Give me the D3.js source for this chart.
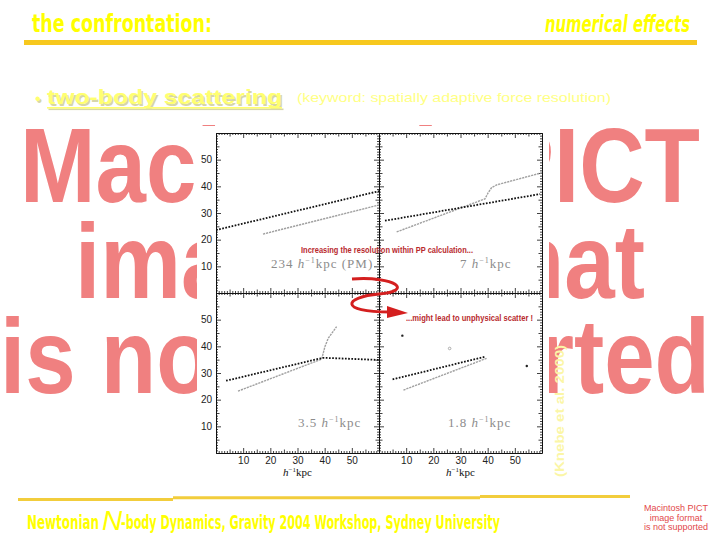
<!DOCTYPE html>
<html>
<head>
<meta charset="utf-8">
<script src="https://cdn.jsdelivr.net/npm/d3@7"></script>
<style>
  body { margin: 0; background: #fff; }
  svg { display: block; }
</style>
</head>
<body>
<svg width="720" height="540"></svg>
<script>
var width = 720, height = 540;

// texts
var placeholder_lines = ["Macintosh PICT", "image format", "is not supported"];
var axis_labels = [10, 20, 30, 40, 50];
var panel_res = ["234", "7", "3.5", "1.8"];
var panel_suffix = [" (PM)", "", "", ""];

// curves per panel, [x, y] in h^-1 kpc
var tl_black = [[0, 23.6], [60, 38.2]];
var tl_gray  = [[17.3, 22.1], [60, 33.0]];
var tr_black = [[2.2, 27.1], [59.3, 37.1]];
var tr_gray  = [[6.5, 22.9], [39.0, 35.3], [40.2, 37.6], [41.5, 39.6], [43.5, 40.6], [60, 45.1]];
var bl_black = [[3.7, 27.1], [39.4, 35.7], [60, 34.9]];
var bl_gray  = [[8.1, 23.2], [38.9, 35.2], [40.1, 39.9], [41.3, 43.0], [44.4, 47.4]];
var br_black = [[5.0, 27.6], [39.0, 36.1]];
var br_gray  = [[9.0, 23.6], [39.6, 35.5]];
var br_scatter_black = [[8.6, 44.0], [54.4, 32.6]];
var br_scatter_gray  = [[26.0, 39.2]];

var svg = d3.select("svg");

svg.append("rect").attr("width", width).attr("height", height).attr("fill", "#fff");

// ---- big placeholder text behind the figure
var big = svg.append("g")
  .attr("font-family", "'Liberation Sans', Arial, sans-serif")
  .attr("font-weight", "bold")
  .attr("font-size", 106)
  .attr("fill", "#f08080");

var big_pos = [[20, 202, 680], [75, 298, 570], [0, 393, 710]];
big.selectAll("text")
  .data(placeholder_lines)
  .enter().append("text")
  .attr("x", function(d, i) { return big_pos[i][0]; })
  .attr("y", function(d, i) { return big_pos[i][1]; })
  .attr("textLength", function(d, i) { return big_pos[i][2]; })
  .attr("lengthAdjust", "spacingAndGlyphs")
  .text(function(d) { return d; });

// white box of the pasted figure
svg.append("rect")
  .attr("x", 197).attr("y", 126)
  .attr("width", 352).attr("height", 364)
  .attr("fill", "#fff");

// ---- header
svg.append("text")
  .attr("x", 32).attr("y", 32)
  .attr("font-family", "'Liberation Sans Narrow', 'DejaVu Sans Condensed', sans-serif")
  .attr("font-weight", "bold")
  .attr("font-size", 25)
  .attr("fill", "#ffff00")
  .attr("textLength", 180).attr("lengthAdjust", "spacingAndGlyphs")
  .text("the confrontation:");

svg.append("text")
  .attr("x", 545).attr("y", 32)
  .attr("font-family", "'Liberation Sans Narrow', 'DejaVu Sans Condensed', sans-serif")
  .attr("font-weight", "bold")
  .attr("font-style", "italic")
  .attr("font-size", 23)
  .attr("fill", "#ffff00")
  .attr("textLength", 145).attr("lengthAdjust", "spacingAndGlyphs")
  .text("numerical effects");

svg.append("rect")
  .attr("x", 24).attr("y", 40)
  .attr("width", 673).attr("height", 5)
  .attr("fill", "#f7c81e");

// ---- bullet line
var bullet = svg.append("g")
  .attr("font-family", "'Liberation Sans', Arial, sans-serif");

[["#d6d6a8", 1.5], ["#ffff70", 0]].forEach(function(s) {
  bullet.append("text")
    .attr("x", 35 + s[1]).attr("y", 104 + s[1])
    .attr("font-size", 16).attr("fill", s[0])
    .text("\u2022");
  bullet.append("text")
    .attr("x", 47 + s[1]).attr("y", 104 + s[1])
    .attr("font-size", 21).attr("font-weight", "bold").attr("fill", s[0])
    .attr("textLength", 235).attr("lengthAdjust", "spacingAndGlyphs")
    .text("two-body scattering");
  bullet.append("rect")
    .attr("x", 47 + s[1]).attr("y", 107 + s[1])
    .attr("width", 235).attr("height", 1.6)
    .attr("fill", s[0]);
});

bullet.append("text")
  .attr("x", 297).attr("y", 102)
  .attr("font-size", 13).attr("fill", "#ffff85")
  .attr("textLength", 314).attr("lengthAdjust", "spacingAndGlyphs")
  .text("(keyword: spatially adaptive force resolution)");

// ---- the four panels
var pw = 163, ph = 160;
var px = d3.scaleLinear().domain([0, 60]).range([0, pw]);
var py = d3.scaleLinear().domain([0, 60]).range([ph, 0]);

var line = d3.line()
  .x(function(d) { return px(d[0]); })
  .y(function(d) { return py(d[1]); });

var panels = [
  {x: 216, y: 133, black: tl_black, gray: tl_gray, left: true,  bottom: false, lx: 271, ly: 268},
  {x: 379, y: 133, black: tr_black, gray: tr_gray, left: false, bottom: false, lx: 460, ly: 268},
  {x: 216, y: 293, black: bl_black, gray: bl_gray, left: true,  bottom: true,  lx: 298, ly: 427},
  {x: 379, y: 293, black: br_black, gray: br_gray, left: false, bottom: true,  lx: 448, ly: 427}
];

svg.append("defs").append("clipPath").attr("id", "panel-clip")
  .append("rect").attr("width", pw).attr("height", ph);

function label_fmt(show) {
  return function(d) { return (show && axis_labels.indexOf(d) >= 0) ? d : ""; };
}

panels.forEach(function(p, i) {
  var g = svg.append("g").attr("transform", "translate(" + p.x + "," + p.y + ")");

  var axes = [
    {gen: d3.axisBottom(px), tr: "translate(0," + ph + ")", lab: p.bottom},
    {gen: d3.axisTop(px),    tr: null, lab: false},
    {gen: d3.axisLeft(py),   tr: null, lab: p.left},
    {gen: d3.axisRight(py),  tr: "translate(" + pw + ",0)", lab: false}
  ];

  axes.forEach(function(a) {
    var minor1 = d3.range(0, 61).filter(function(v) { return v % 5; });
    var minor5 = d3.range(5, 60, 10);
    var gen = a.gen;

    var m1 = g.append("g").attr("transform", a.tr)
      .call(gen.tickValues(minor1).tickSizeInner(-2).tickSizeOuter(0).tickFormat(""));
    m1.select(".domain").remove();

    var m5 = g.append("g").attr("transform", a.tr)
      .call(gen.tickValues(minor5).tickSizeInner(-3.5).tickSizeOuter(0).tickFormat(""));
    m5.select(".domain").remove();

    var mj = g.append("g").attr("transform", a.tr)
      .call(gen.tickValues(d3.range(0, 61, 10)).tickSizeInner(-5).tickSizeOuter(0)
        .tickPadding(4).tickFormat(label_fmt(a.lab)));

    g.selectAll("line").attr("stroke", "#111").attr("stroke-width", 0.8);
    mj.select(".domain").attr("stroke", "#111").attr("stroke-width", 1);
    mj.selectAll("text")
      .attr("font-family", "'Liberation Sans', Arial, sans-serif")
      .attr("font-size", 10)
      .attr("fill", "#222");
  });

  var plot = g.append("g").attr("clip-path", "url(#panel-clip)");

  plot.append("path")
    .attr("d", line(p.gray))
    .attr("fill", "none")
    .attr("stroke", "#a0a0a0")
    .attr("stroke-width", 1.4)
    .attr("stroke-dasharray", "2.2,0.9");

  plot.append("path")
    .attr("d", line(p.black))
    .attr("fill", "none")
    .attr("stroke", "#111")
    .attr("stroke-width", 1.8)
    .attr("stroke-dasharray", "1.7,1.5");

  // resolution label
  var t = svg.append("text")
    .attr("x", p.lx).attr("y", p.ly)
    .attr("font-family", "'Liberation Serif', 'DejaVu Serif', serif")
    .attr("font-size", 13)
    .attr("letter-spacing", 1)
    .attr("fill", "#8c8c8c");
  t.append("tspan").text(panel_res[i] + " ");
  t.append("tspan").attr("font-style", "italic").text("h");
  t.append("tspan").attr("font-size", 8).attr("dy", -5).text("\u22121");
  t.append("tspan").attr("dy", 5).text("kpc" + panel_suffix[i]);

  if (p.bottom) {
    var u = svg.append("text")
      .attr("x", p.x + pw / 2).attr("y", 476)
      .attr("text-anchor", "middle")
      .attr("font-family", "'Liberation Serif', 'DejaVu Serif', serif")
      .attr("font-size", 11)
      .attr("fill", "#111");
    u.append("tspan").attr("font-style", "italic").text("h");
    u.append("tspan").attr("font-size", 7).attr("dy", -4).text("\u22121");
    u.append("tspan").attr("dy", 4).text("kpc");
  }

  if (i == 3) {
    plot.selectAll(".sb")
      .data(br_scatter_black)
      .enter().append("circle")
      .attr("class", "sb")
      .attr("cx", function(d) { return px(d[0]); })
      .attr("cy", function(d) { return py(d[1]); })
      .attr("r", 1.2)
      .attr("fill", "#222");
    plot.selectAll(".sg")
      .data(br_scatter_gray)
      .enter().append("circle")
      .attr("class", "sg")
      .attr("cx", function(d) { return px(d[0]); })
      .attr("cy", function(d) { return py(d[1]); })
      .attr("r", 1.3)
      .attr("fill", "none")
      .attr("stroke", "#999")
      .attr("stroke-width", 0.8);
  }
});

// ---- red annotations
var note = svg.append("g")
  .attr("font-family", "'Liberation Sans', Arial, sans-serif")
  .attr("font-weight", "bold")
  .attr("font-size", 8.5)
  .attr("fill", "#b82a2e");

note.append("text")
  .attr("x", 301).attr("y", 253)
  .attr("textLength", 172).attr("lengthAdjust", "spacingAndGlyphs")
  .text("Increasing the resolution within PP calculation...");

note.append("text")
  .attr("x", 406).attr("y", 321)
  .attr("textLength", 127).attr("lengthAdjust", "spacingAndGlyphs")
  .text("...might lead to unphysical scatter !");

svg.append("path")
  .attr("d", "M352,279 C396,276 414,291 379,294 C344,297 338,312 390,312")
  .attr("fill", "none")
  .attr("stroke", "#d41f1f")
  .attr("stroke-width", 3);

svg.append("path")
  .attr("d", "M387,306 L408,313 L387,318 Z")
  .attr("fill", "#d41f1f");

// ---- citation
svg.append("text")
  .attr("transform", "translate(564,411) rotate(-90)")
  .attr("text-anchor", "middle")
  .attr("font-family", "'Liberation Sans', Arial, sans-serif")
  .attr("font-weight", "bold")
  .attr("font-size", 12)
  .attr("fill", "#fbf6a6")
  .attr("textLength", 132).attr("lengthAdjust", "spacingAndGlyphs")
  .text("(Knebe et al. 2000)");

// ---- footer
var foot_bar = [[18, 173, 499.5], [173, 480, 497.8], [480, 630, 496.6]];
svg.selectAll(".fbar")
  .data(foot_bar)
  .enter().append("line")
  .attr("class", "fbar")
  .attr("x1", function(d) { return d[0]; })
  .attr("x2", function(d) { return d[1]; })
  .attr("y1", function(d) { return d[2]; })
  .attr("y2", function(d) { return d[2]; })
  .attr("stroke", "#f2cd3c")
  .attr("stroke-width", 3);

var foot = svg.append("g")
  .attr("font-family", "'Liberation Sans Narrow', 'DejaVu Sans Condensed', sans-serif")
  .attr("font-weight", "bold")
  .attr("fill", "#ffff00");

foot.append("text")
  .attr("x", 27).attr("y", 529).attr("font-size", 19)
  .attr("textLength", 72).attr("lengthAdjust", "spacingAndGlyphs")
  .text("Newtonian");

foot.append("text")
  .attr("x", 102).attr("y", 530).attr("font-size", 28)
  .attr("font-weight", "normal").attr("font-style", "italic")
  .attr("font-family", "'Liberation Sans', Arial, sans-serif")
  .text("N");

foot.append("text")
  .attr("x", 121).attr("y", 529).attr("font-size", 19)
  .attr("textLength", 379).attr("lengthAdjust", "spacingAndGlyphs")
  .text("-body Dynamics, Gravity 2004 Workshop, Sydney University");

var small = svg.append("g")
  .attr("font-family", "'Liberation Sans', Arial, sans-serif")
  .attr("font-size", 9)
  .attr("fill", "#e2484a")
  .attr("text-anchor", "middle");

small.selectAll("text")
  .data(placeholder_lines)
  .enter().append("text")
  .attr("x", 676)
  .attr("y", function(d, i) { return 511 + i * 9.5; })
  .text(function(d) { return d; });
</script>
</body>
</html>
